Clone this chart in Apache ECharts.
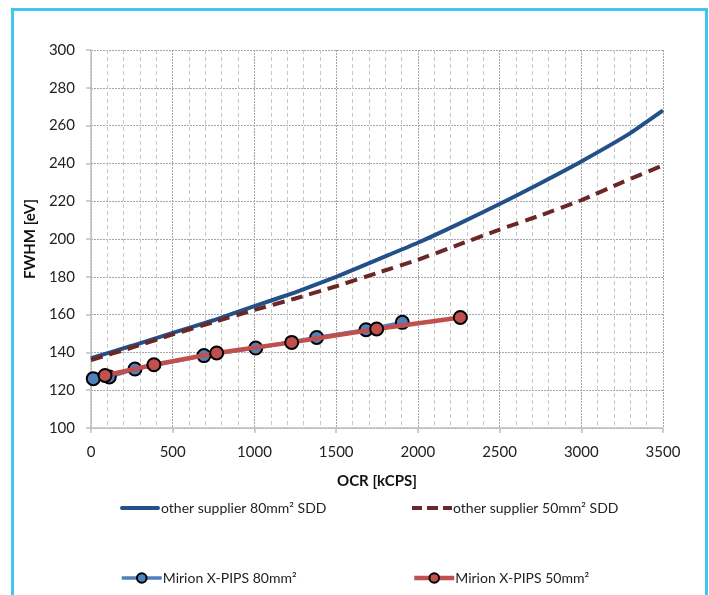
<!DOCTYPE html>
<html>
<head>
<meta charset="utf-8">
<script src="https://cdn.jsdelivr.net/npm/echarts@6/dist/echarts.min.js"></script>
<style>
html,body{margin:0;padding:0;background:#fff;}
#chart{width:709px;height:595px;}
</style>
</head>
<body>
<div id="chart"></div>
<script>
// Data
var seriesNames = ["other supplier 80mm² SDD", "other supplier 50mm² SDD", "Mirion X-PIPS 80mm²", "Mirion X-PIPS 50mm²"];
var sdd80X = [0, 250, 500, 750, 1000, 1250, 1500, 1750, 2000, 2250, 2500, 2750, 3000, 3300, 3500];
var sdd80Y = [137, 143.5, 150.3, 157, 164.5, 171.8, 180, 189, 198, 208, 218.5, 229.5, 241, 256, 268];
var sdd50X = [0, 250, 500, 750, 1000, 1250, 1500, 1750, 2000, 2250, 2500, 2750, 3000, 3250, 3500];
var sdd50Y = [136, 142.5, 149.5, 156, 162.5, 168.5, 175, 182, 189, 197, 205, 212.5, 220.5, 230, 239];
var pips80X = [14, 112, 269, 691, 1008, 1381, 1683, 1905];
var pips80Y = [126.1, 127, 131.2, 138.3, 142.3, 147.9, 152, 155.9];
var pips50X = [86, 385, 769, 1228, 1748, 2260];
var pips50Y = [127.8, 133.5, 139.7, 145.3, 152.4, 158.5];
var xAxisName = "OCR [kCPS]";
var yAxisName = "FWHM [eV]";

function pairs(xs, ys) { return xs.map(function (x, i) { return [x, ys[i]]; }); }

var FONT = "Lato";
var chart = echarts.init(document.getElementById('chart'), null, {renderer: 'canvas'});

var solidIcon = 'path://M2,0 L38,0 A2,2 0 0 1 38,4 L2,4 A2,2 0 0 1 2,0 Z';
var dashIcon = 'path://M0,0 L10,0 L10,4 L0,4 Z M15,0 L26,0 L26,4 L15,4 Z M31,0 L40,0 L40,4 L31,4 Z';

function legendAt(item, left, top) {
  return {
    data: [item], left: left, top: top, orient: 'horizontal',
    itemWidth: 40, itemHeight: 12, itemGap: 5, padding: 0,
    textStyle: {fontFamily: FONT, fontSize: 14, color: '#222', padding: [0, 0, 0, -4]},
    lineStyle: {width: 'inherit'},
    selectedMode: false
  };
}

var option = {
  animation: false,
  backgroundColor: '#fff',
  graphic: [{
    type: 'rect', left: 10, top: 7, silent: true, z: -10,
    shape: {width: 694, height: 620},
    style: {fill: 'none', stroke: '#3DC8F4', lineWidth: 3}
  }],
  grid: {left: 91, right: 46, top: 50, bottom: 167, containLabel: false},
  legend: [
    legendAt({name: seriesNames[0], icon: solidIcon}, 120, 501),
    legendAt({name: seriesNames[1], icon: dashIcon}, 412, 501),
    legendAt({name: seriesNames[2]}, 120, 571),
    legendAt({name: seriesNames[3]}, 412, 571)
  ],
  xAxis: {
    type: 'value', min: 0, max: 3500, interval: 500,
    name: xAxisName, nameLocation: 'middle', nameGap: 46,
    nameTextStyle: {fontFamily: FONT, fontSize: 15, fontWeight: 'bold', color: '#111'},
    axisLine: {show: true, onZero: false, lineStyle: {color: '#BFBFBF', width: 1.5}},
    axisTick: {show: true, length: 5, lineStyle: {color: '#BFBFBF', width: 1.5}},
    axisLabel: {fontFamily: FONT, fontSize: 15, color: '#222', margin: 17,
      formatter: function (v) { return String(v); }},
    splitLine: {show: true, lineStyle: {color: '#A6A6A6', type: [2, 1], width: 1}},
    minorTick: {show: false, splitNumber: 5},
    minorSplitLine: {show: true, lineStyle: {color: '#C8C8C8', type: [4, 3], width: 1}}
  },
  yAxis: {
    type: 'value', min: 100, max: 300, interval: 20,
    name: yAxisName, nameLocation: 'middle', nameGap: 50,
    nameTextStyle: {fontFamily: FONT, fontSize: 15, fontWeight: 'bold', color: '#111'},
    axisLine: {show: true, lineStyle: {color: '#BFBFBF', width: 1.5}},
    axisTick: {show: true, length: 5, lineStyle: {color: '#BFBFBF', width: 1.5}},
    axisLabel: {fontFamily: FONT, fontSize: 15, color: '#222', margin: 16},
    splitLine: {show: true, lineStyle: {color: '#A6A6A6', type: [2, 1], width: 1}}
  },
  series: [
    {
      name: seriesNames[0], type: 'line', data: pairs(sdd80X, sdd80Y),
      symbol: 'none', smooth: 0.15, z: 3,
      lineStyle: {color: '#24508A', width: 4}, itemStyle: {color: '#24508A'}
    },
    {
      name: seriesNames[1], type: 'line', data: pairs(sdd50X, sdd50Y),
      symbol: 'none', smooth: 0.15, z: 4,
      lineStyle: {color: '#6B2626', width: 4, type: [12, 7], cap: 'butt'}, itemStyle: {color: '#6B2626'}
    },
    {
      name: seriesNames[2], type: 'line', data: pairs(pips80X, pips80Y),
      symbol: 'circle', symbolSize: 13, z: 5,
      lineStyle: {color: '#4F81BD', width: 3.5},
      itemStyle: {color: '#4F81BD', borderColor: '#000', borderWidth: 2}
    },
    {
      name: seriesNames[3], type: 'line', data: pairs(pips50X, pips50Y),
      symbol: 'circle', symbolSize: 13, z: 6,
      lineStyle: {color: '#C0504D', width: 4.5},
      itemStyle: {color: '#C0504D', borderColor: '#000', borderWidth: 2}
    }
  ]
};
chart.setOption(option);
</script>
</body>
</html>
